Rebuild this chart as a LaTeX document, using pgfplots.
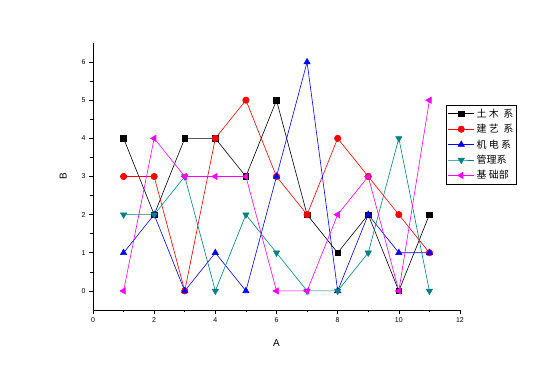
\documentclass[border=0pt]{standalone}
\usepackage{pgfplots}
\pgfplotsset{compat=1.18}
\usepackage{fontspec}
\setmainfont{Liberation Sans}
\newfontfamily\cjk{Noto Sans CJK SC}
\definecolor{tealc}{RGB}{0,128,128}
\definecolor{magc}{RGB}{255,0,255}
\definecolor{redc}{RGB}{255,0,0}
\definecolor{bluec}{RGB}{0,0,255}
\begin{document}
\begin{tikzpicture}
\useasboundingbox (-93pt,-64pt) rectangle (440pt,310pt);
\begin{axis}[
  at={(0pt,0pt)}, anchor=south west,
  scale only axis, width=367pt, height=267pt,
  xmin=0, xmax=12, ymin=-0.5, ymax=6.5,
  axis lines=left, axis line style={-, line width=0.8pt},
  xtick={0,2,...,12}, ytick={0,...,6},
  minor x tick num=1, minor y tick num=1,
  tick align=outside, tick pos=left,
  major tick length=4pt, minor tick length=2.5pt,
  every tick/.style={black, line width=0.6pt},
  tick label style={font=\fontsize{7}{8}\selectfont},
  /pgf/number format/assume math mode=true,
  xlabel={A}, ylabel={B},
  label style={font=\fontsize{10}{12}\selectfont},
  xlabel style={yshift=-10pt},
  ylabel style={yshift=8pt},
  every axis plot/.append style={line width=0.6pt, mark size=3.2pt},
  legend image code/.code={\draw[mark repeat=2,mark phase=2,#1] plot coordinates {(0pt,0pt)(13pt,0pt)(26pt,0pt)};},
  legend style={at={(0.962,0.768)}, anchor=north west, font=\cjk\fontsize{10}{12}\selectfont,
    draw=black, line width=0.8pt, inner sep=1.5pt, row sep=1.5pt,
    /tikz/every even column/.append style={column sep=2pt}},
  legend cell align=left,
]
\addplot[black, mark=square*, mark size=2.8pt, mark options={draw=black,fill=black}] coordinates {(1,4)(2,2)(3,4)(4,4)(5,3)(6,5)(7,2)(8,1)(9,2)(10,0)(11,2)};
\addlegendentry{土 木 \ 系}
\addplot[redc, mark=*, mark options={draw=redc,fill=redc}] coordinates {(1,3)(2,3)(3,0)(4,4)(5,5)(6,3)(7,2)(8,4)(9,3)(10,2)(11,1)};
\addlegendentry{建 艺 \ 系}
\addplot[bluec, mark=triangle*, mark size=3.6pt, mark options={draw=bluec,fill=bluec}] coordinates {(1,1)(2,2)(3,0)(4,1)(5,0)(6,3)(7,6)(8,0)(9,2)(10,1)(11,1)};
\addlegendentry{机 电 系}
\addplot[tealc, mark=triangle*, mark size=3.6pt, mark options={rotate=180,draw=tealc,fill=tealc}] coordinates {(1,2)(2,2)(3,3)(4,0)(5,2)(6,1)(7,0)(8,0)(9,1)(10,4)(11,0)};
\addlegendentry{管理系}
\addplot[magc, mark=triangle*, mark size=3.6pt, mark options={rotate=90,draw=magc,fill=magc}] coordinates {(1,0)(2,4)(3,3)(4,3)(5,3)(6,0)(7,0)(8,2)(9,3)(10,0)(11,5)};
\addlegendentry{基 础部}
\end{axis}
\end{tikzpicture}
\end{document}
